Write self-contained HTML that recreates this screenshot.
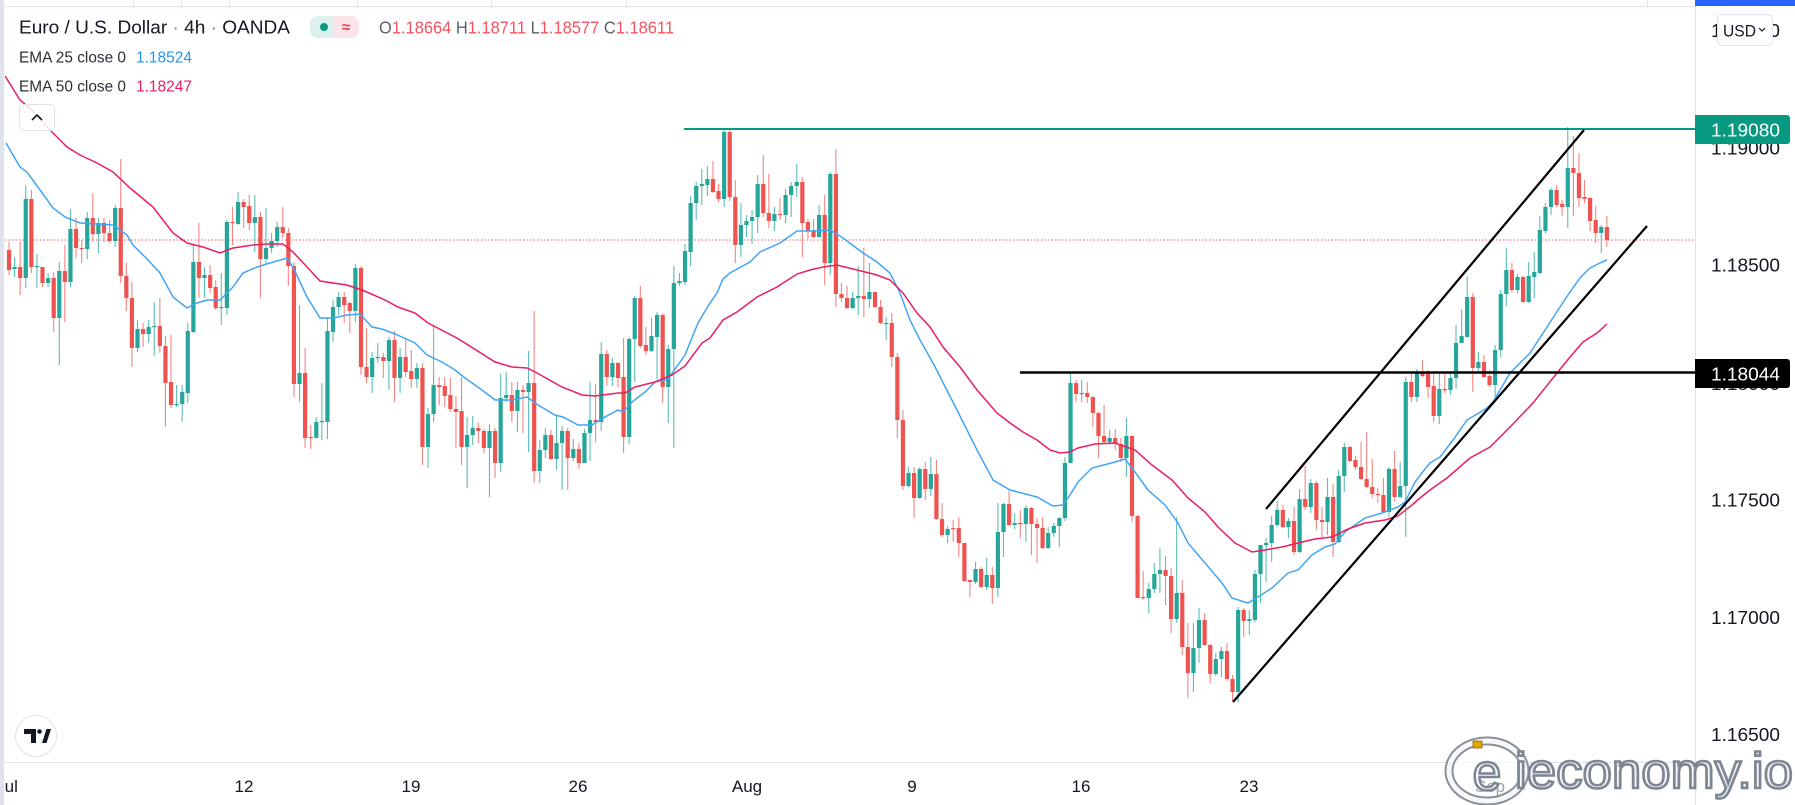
<!DOCTYPE html>
<html><head><meta charset="utf-8">
<style>
html,body{margin:0;padding:0;background:#fff;}
body{width:1795px;height:805px;overflow:hidden;}
svg{display:block;font-family:"Liberation Sans",sans-serif;}
</style></head><body>
<svg width="1795" height="805" viewBox="0 0 1795 805" xmlns="http://www.w3.org/2000/svg">
<defs><clipPath id="pane"><rect x="5" y="7" width="1690" height="755"/></clipPath></defs>
<rect width="1795" height="805" fill="#fff"/>
<!-- top strip -->
<line x1="0" y1="6.5" x2="1695" y2="6.5" stroke="#e0e3eb"/>
<g stroke="#e0e3eb"><line x1="133.5" y1="0" x2="133.5" y2="6"/><line x1="181.5" y1="0" x2="181.5" y2="6"/><line x1="229.5" y1="0" x2="229.5" y2="6"/><line x1="357.5" y1="0" x2="357.5" y2="6"/><line x1="491.5" y1="0" x2="491.5" y2="6"/><line x1="626.5" y1="0" x2="626.5" y2="6"/><line x1="1647.5" y1="0" x2="1647.5" y2="6"/></g>
<rect x="1695" y="0" width="100" height="6" fill="#2962ff"/>
<!-- left strip -->
<rect x="0" y="0" width="4" height="805" fill="#e0e3eb"/>
<!-- axes -->
<line x1="1695.5" y1="6" x2="1695.5" y2="805" stroke="#e0e3eb"/>
<line x1="0" y1="762.5" x2="1695" y2="762.5" stroke="#e0e3eb"/>

<g clip-path="url(#pane)">
<line x1="5" y1="240" x2="1695" y2="240" stroke="#f7525f" stroke-width="1" stroke-dasharray="1.5 2"/>
<g id="candles"></g>
<polyline fill="none" stroke="#42a5f5" stroke-width="1.5" points="6,143 20,167 27,172 40,190 53,208 65,217 80,223 97,224 113,225 127,235 133,245 147,259 160,273 173,297 187,308 197,303 207,300 220,300 233,287 243,273 257,267 270,263 287,258 293,267 307,297 320,318 333,318 347,315 360,314 372,327 382,329 395,334 415,343 427,355 442,362 455,370 465,378 482,390 495,400 512,400 527,397 538,405 555,415 563,417 578,425 592,425 605,417 618,410 623,412 632,402 645,392 655,382 668,379 685,355 698,323 710,303 717,293 723,279 730,273 750,262 760,252 780,243 797,231 810,231 830,230 843,238 863,253 877,262 890,273 900,293 910,320 920,340 933,363 957,410 977,450 993,480 1010,490 1037,497 1053,506 1063,505 1070,495 1078,482 1092,468 1115,462 1125,459 1135,472 1148,490 1165,505 1178,523 1188,543 1205,563 1222,583 1232,598 1248,603 1258,597 1272,588 1288,573 1298,570 1312,555 1325,547 1335,544 1345,532 1355,525 1365,518 1382,513 1398,507 1405,502 1415,482 1425,469 1430,463 1440,457 1453,440 1467,420 1487,408 1493,402 1510,373 1530,353 1547,327 1560,307 1570,292 1580,278 1590,268 1600,263 1607,260"/>
<polyline fill="none" stroke="#e91e63" stroke-width="1.5" points="5,76 20,100 32,110 50,130 67,147 80,155 97,163 113,172 130,188 153,207 173,233 187,243 203,247 220,253 233,248 253,245 267,244 283,244 293,252 307,267 320,281 333,283 347,285 362,290 385,300 398,307 415,313 428,323 455,337 465,343 495,362 512,367 527,368 537,373 562,387 582,395 595,396 618,393 625,393 635,387 655,382 672,375 685,366 702,343 710,338 723,320 737,312 757,297 777,287 797,274 810,270 823,267 837,265 857,270 877,275 890,280 903,293 917,313 930,327 943,347 960,367 977,390 997,413 1010,423 1023,432 1037,440 1050,450 1060,453 1070,452 1078,448 1095,444 1115,443 1135,450 1152,465 1172,480 1188,498 1205,512 1218,527 1235,543 1252,552 1265,550 1282,547 1298,543 1315,539 1332,537 1348,529 1365,523 1385,520 1398,516 1412,505 1420,498 1430,490 1447,478 1470,458 1490,447 1510,427 1533,403 1557,373 1570,357 1583,342 1597,333 1607,324"/>
<!-- drawings -->
<line x1="684" y1="129" x2="1695" y2="129" stroke="#089981" stroke-width="2"/>
<line x1="1020" y1="372.5" x2="1695" y2="372.5" stroke="#000" stroke-width="2.5"/>
<line x1="1266" y1="509" x2="1584" y2="130" stroke="#000" stroke-width="2.2"/>
<line x1="1233" y1="702" x2="1647" y2="226" stroke="#000" stroke-width="2.2"/>
</g>

<!-- legend -->
<text x="19" y="33.5" font-size="18" fill="#131722" textLength="271" lengthAdjust="spacingAndGlyphs">Euro / U.S. Dollar <tspan fill="#787b86">·</tspan> 4h <tspan fill="#787b86">·</tspan> OANDA</text>
<rect x="310" y="16" width="49" height="22" rx="8" fill="#fde4ea"/>
<path d="M318,16 H334 V38 H318 A8,8 0 0 1 310,30 V24 A8,8 0 0 1 318,16 Z" fill="#dcf1ee"/>
<circle cx="324" cy="27" r="4" fill="#089981"/>
<text x="346" y="32" font-size="15" font-weight="bold" fill="#f23645" text-anchor="middle">≈</text>
<text x="379" y="33.5" font-size="17.5" textLength="295" lengthAdjust="spacingAndGlyphs"><tspan fill="#5d606b">O</tspan><tspan fill="#f7525f">1.18664</tspan><tspan fill="#5d606b"> H</tspan><tspan fill="#f7525f">1.18711</tspan><tspan fill="#5d606b"> L</tspan><tspan fill="#f7525f">1.18577</tspan><tspan fill="#5d606b"> C</tspan><tspan fill="#f7525f">1.18611</tspan></text>
<text x="19" y="62.5" font-size="15.5" fill="#2a2e39" textLength="107" lengthAdjust="spacingAndGlyphs">EMA 25 close 0</text>
<text x="136" y="62.5" font-size="15.5" fill="#2196f3" textLength="56" lengthAdjust="spacingAndGlyphs">1.18524</text>
<text x="19" y="91.5" font-size="15.5" fill="#2a2e39" textLength="107" lengthAdjust="spacingAndGlyphs">EMA 50 close 0</text>
<text x="136" y="91.5" font-size="15.5" fill="#e91e63" textLength="56" lengthAdjust="spacingAndGlyphs">1.18247</text>
<rect x="19.5" y="104.5" width="35" height="26" rx="4" fill="#fff" fill-opacity="0.85" stroke="#e0e3eb"/>
<path d="M32,120 L37,115 L42,120" fill="none" stroke="#131722" stroke-width="1.6"/>

<!-- price axis -->
<g font-size="18" fill="#131722">
<text x="1711" y="36.8" textLength="69" lengthAdjust="spacingAndGlyphs">1.19500</text>
<text x="1711" y="154.4" textLength="69" lengthAdjust="spacingAndGlyphs">1.19000</text>
<text x="1711" y="271.7" textLength="69" lengthAdjust="spacingAndGlyphs">1.18500</text>
<text x="1711" y="390" textLength="69" lengthAdjust="spacingAndGlyphs">1.18000</text>
<text x="1711" y="506.6" textLength="69" lengthAdjust="spacingAndGlyphs">1.17500</text>
<text x="1711" y="623.8" textLength="69" lengthAdjust="spacingAndGlyphs">1.17000</text>
<text x="1711" y="741" textLength="69" lengthAdjust="spacingAndGlyphs">1.16500</text>
</g>
<rect x="1717.5" y="14.5" width="55" height="31" rx="5" fill="#fff" stroke="#e0e3eb"/>
<text x="1723" y="36.5" font-size="17" fill="#131722" textLength="33" lengthAdjust="spacingAndGlyphs">USD</text>
<path d="M1759,28 L1762,31 L1765,28" fill="none" stroke="#131722" stroke-width="1.2"/>
<path d="M1695,115 H1787 A3,3 0 0 1 1790,118 V141 A3,3 0 0 1 1787,144 H1695 Z" fill="#089981"/>
<text x="1711" y="136.5" font-size="18" fill="#fff" textLength="69" lengthAdjust="spacingAndGlyphs">1.19080</text>
<path d="M1695,359 H1787 A3,3 0 0 1 1790,362 V385 A3,3 0 0 1 1787,388 H1695 Z" fill="#000"/>
<text x="1711" y="380.5" font-size="18" fill="#fff" textLength="69" lengthAdjust="spacingAndGlyphs">1.18044</text>

<!-- time axis -->
<g font-size="17" fill="#131722" text-anchor="middle">
<text x="7" y="792">Jul</text>
<text x="244" y="792">12</text>
<text x="411" y="792">19</text>
<text x="578" y="792">26</text>
<text x="747" y="792">Aug</text>
<text x="912" y="792">9</text>
<text x="1081" y="792">16</text>
<text x="1249" y="792">23</text>
<text x="1490" y="792">Sep</text>
</g>
<rect x="0" y="760" width="4" height="45" fill="#e0e3eb"/>

<!-- TV logo -->
<circle cx="36" cy="736" r="20.5" fill="#fff" stroke="#e0e3eb"/>
<path d="M24,729 H36 V743 H31 V734 H24 Z" fill="#131722"/>
<circle cx="39.5" cy="731.5" r="2.3" fill="#131722"/>
<path d="M42,743 L46.5,729 H51 L46.5,743 Z" fill="#131722"/>

<!-- watermark -->
<ellipse cx="1487" cy="771" rx="38" ry="30" fill="#fff" fill-opacity="0.6" stroke="#8a909c" stroke-width="9"/>
<ellipse cx="1487" cy="771" rx="38" ry="30" fill="none" stroke="#f7f8fa" stroke-width="5"/>
<rect x="1473" y="741" width="9" height="7" fill="#e0a400" stroke="#8a6a00" stroke-width="0.8"/>
<text x="1487" y="790" font-size="52" text-anchor="middle" fill="#f7f8fa" stroke="#7f8693" stroke-width="2.5">e</text>
<text x="1515" y="788" font-size="50" fill="#f5f6f8" stroke="#7f8693" stroke-width="2.6" textLength="278" lengthAdjust="spacingAndGlyphs">ieconomy.io</text>
</svg>
<script>
var D=[[250,270,242,275],[269,267,257,277],[267,278,242,295],[278,199,185,288],[199,267,190,273],[267,266,254,288],[267,283,267,287],[283,278,273,287],[278,318,272,332],[318,271,262,365],
[271,282,245,322],[282,229,209,287],[229,248,218,258],[248,249,240,263],[249,218,212,259],[218,234,193,242],[234,223,218,253],[223,233,218,242],[233,241,220,243],[241,208,205,247],
[208,276,159,283],[276,298,263,311],[298,348,282,367],[348,329,320,352],[329,334,323,347],[334,327,320,343],[327,326,302,356],[326,346,298,353],[346,383,336,427],[382,405,335,408],
[405,404,385,407],[404,392,385,422],[393,331,323,403],[332,262,245,333],[262,278,223,298],[278,275,267,298],[275,288,265,293],[287,308,280,310],[308,307,273,325],[308,222,220,315],
[222,223,207,245],[224,202,192,225],[202,207,199,228],[206,223,195,230],[223,217,195,252],[217,259,212,298],[259,248,208,265],[248,241,233,253],[241,227,222,247],[227,233,207,238],
[233,266,228,286],[266,384,262,397],[384,373,305,402],[373,438,348,448],[437,438,425,449],[438,422,417,438],[422,421,383,440],[422,331,318,439],[332,307,300,342],[307,297,292,315],
[297,305,292,323],[303,311,302,333],[311,268,264,322],[268,367,266,375],[367,377,328,383],[377,358,352,393],[358,357,343,363],[357,361,353,378],[361,340,337,390],[340,378,331,402],
[378,357,348,393],[357,372,338,377],[371,379,350,388],[379,368,363,388],[368,447,363,465],[447,414,408,468],[414,385,325,422],[385,387,377,405],[386,396,377,407],[395,409,378,412],
[409,412,396,448],[411,447,377,465],[447,435,417,488],[435,428,416,445],[428,431,423,443],[431,448,429,453],[448,431,424,497],[431,463,428,478],[463,398,374,472],[398,395,372,402],
[395,411,382,422],[411,390,382,432],[390,392,385,433],[392,383,351,452],[383,471,311,483],[471,450,440,483],[450,435,428,458],[435,459,430,460],[459,443,415,470],[443,431,426,490],
[431,458,428,490],[458,449,439,461],[449,463,443,469],[463,433,429,463],[433,420,382,461],[420,422,384,442],[422,354,342,431],[354,377,350,386],[377,363,358,386],[363,378,362,387],
[377,437,338,453],[437,339,337,444],[339,298,296,382],[298,346,286,348],[345,351,327,355],[351,336,318,352],[337,315,312,379],[315,387,314,403],[387,349,345,423],[349,283,266,448],
[283,281,273,286],[282,251,244,285],[252,203,196,266],[203,186,182,220],[186,184,169,205],[185,179,166,196],[179,192,161,193],[191,199,184,202],[199,132,130,207],[132,197,128,201],
[197,245,180,263],[245,225,203,257],[225,221,215,237],[221,217,210,244],[217,184,175,233],[184,213,155,217],[213,221,174,228],[221,214,207,231],[214,215,198,220],[215,195,189,223],
[195,186,182,217],[186,182,164,197],[182,223,177,257],[222,231,219,239],[231,237,219,238],[237,215,205,238],[215,263,195,285],[263,174,172,275],[174,294,149,307],[294,298,283,302],
[298,308,286,309],[308,298,292,309],[298,296,266,315],[296,299,248,317],[299,292,263,308],[292,307,292,308],[307,323,300,324],[324,323,317,340],[323,357,313,367],[357,420,353,438],
[420,486,410,490],[486,473,467,487],[473,498,467,518],[498,469,467,499],[469,489,462,500],[489,474,457,496],[474,519,460,520],[519,535,503,537],[535,529,526,543],[528,529,520,542],
[528,543,517,557],[543,581,543,582],[580,582,580,597],[582,569,562,584],[569,587,567,588],[587,575,558,590],[575,588,567,604],[588,532,503,597],[532,504,503,557],[504,525,491,526],
[525,523,513,529],[523,524,510,538],[524,508,505,542],[508,524,507,555],[524,528,518,563],[528,548,517,549],[548,533,527,549],[533,526,523,537],[526,518,517,547],[518,463,457,521],
[463,383,372,463],[383,394,380,402],[394,393,380,402],[393,397,382,403],[397,413,396,427],[413,436,412,458],[436,442,405,443],[442,438,430,445],[438,444,429,450],[444,458,438,462],
[458,436,418,477],[436,516,435,522],[516,598,515,598],[597,598,571,600],[598,589,583,613],[589,574,563,593],[574,570,548,593],[570,576,556,605],[576,619,568,633],[619,593,517,623],
[593,647,580,655],[647,673,623,698],[673,648,623,692],[648,620,608,663],[620,645,613,646],[645,674,644,683],[674,659,653,676],[659,651,647,677],[651,679,643,681],[679,692,675,701],
[692,610,607,702],[610,621,608,637],[621,619,610,635],[620,574,570,622],[574,545,545,603],[545,543,538,582],[543,525,516,562],[525,510,501,527],[510,527,505,528],[527,521,518,538],
[521,552,507,555],[552,499,489,553],[499,507,466,510],[507,483,479,513],[483,520,481,530],[520,522,507,537],[522,497,478,535],[497,542,484,557],[542,476,470,543],[476,447,443,492],
[447,461,446,462],[460,467,456,470],[467,479,442,480],[479,487,432,488],[487,494,459,498],[494,495,488,503],[495,512,478,513],[512,469,467,517],[469,497,451,501],[497,486,462,498],
[486,382,377,537],[382,397,373,402],[397,372,369,402],[372,376,360,377],[373,387,370,398],[386,416,373,422],[416,389,373,424],[389,390,373,393],[390,378,372,395],[378,343,325,389],
[343,336,309,343],[337,297,277,337],[297,368,293,392],[368,362,352,372],[362,377,355,378],[376,385,370,387],[385,350,345,397],[350,294,290,357],[294,270,248,306],[270,290,263,293],
[290,277,274,293],[277,302,276,303],[302,276,262,303],[277,272,252,298],[273,230,216,274],[231,207,203,233],[207,190,188,215],[190,205,185,207],[204,207,200,216],[207,168,127,228],
[168,173,136,216],[173,198,153,207],[197,199,180,203],[198,221,197,231],[220,233,206,243],[233,227,225,253],[227,240,216,247]];
(function(){
  var NS='http://www.w3.org/2000/svg';
  var g=document.getElementById('candles');
  for(var i=0;i<D.length;i++){
    var d=D[i],o=d[0],c=d[1],h=d[2],l=d[3];
    var x=9+i*5.587;
    var up=c<o;
    var col=up?'#26a69a':'#ef5350';
    var wc=up?'#5dbdb3':'#f28683';
    var t=Math.min(o,c),b=Math.max(o,c);
    var ln=document.createElementNS(NS,'line');
    ln.setAttribute('x1',x.toFixed(2));ln.setAttribute('x2',x.toFixed(2));
    ln.setAttribute('y1',h);ln.setAttribute('y2',l);
    ln.setAttribute('stroke',wc);ln.setAttribute('stroke-width','1.1');
    g.appendChild(ln);
    var r=document.createElementNS(NS,'rect');
    r.setAttribute('x',(x-2.1).toFixed(2));r.setAttribute('y',t);
    r.setAttribute('width','4.2');r.setAttribute('height',Math.max(b-t,1.2));
    r.setAttribute('fill',col);
    g.appendChild(r);
  }
})();
</script>
</body></html>
